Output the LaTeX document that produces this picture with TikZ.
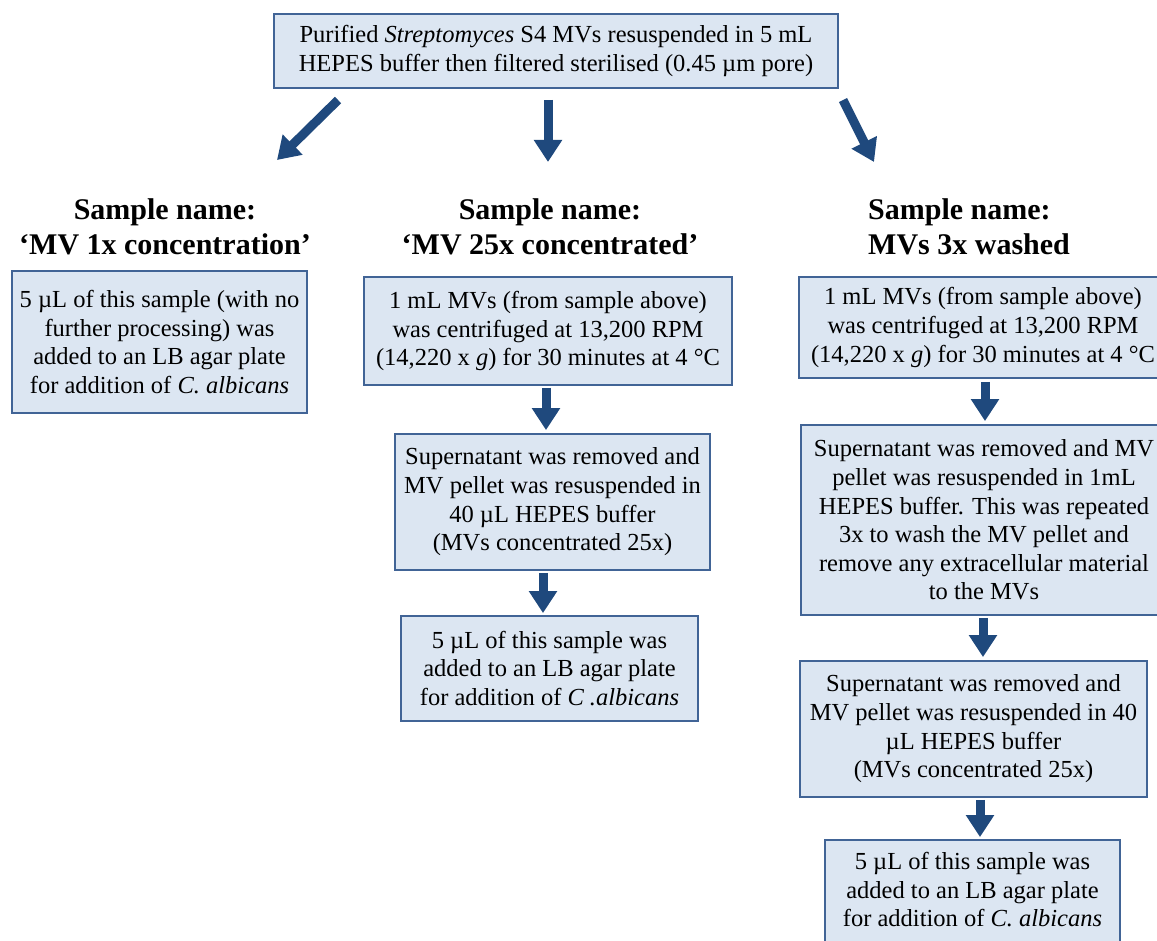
\documentclass[tikz,border=0pt]{standalone}
\usepackage{fontspec}
\setmainfont{Liberation Serif}
\usetikzlibrary{arrows.meta}
\definecolor{boxfill}{RGB}{220,230,242}
\definecolor{boxline}{RGB}{65,100,150}
\definecolor{arrowblue}{RGB}{31,73,125}
\tikzset{
  procbox/.style={draw=boxline, line width=1.8pt, fill=boxfill, align=center,
    font=\fontsize{24.5}{28.6}\selectfont, inner sep=0pt},
  heading/.style={font=\bfseries\fontsize{30}{34.5}\selectfont, align=center, inner sep=0pt},
  flowarrow/.style={draw=arrowblue, line width=9pt, -{Triangle[width=27pt,length=22pt]}},
}
\begin{document}
\begin{tikzpicture}[x=1pt,y=-1pt]
\useasboundingbox (0,0) rectangle (1157,941);
\clip (0,0) rectangle (1157,941);
\fill[white] (0,0) rectangle (1157,941);

% top box
\node[procbox, minimum width=564, minimum height=74] (top) at (556,51)
  {Purified \textit{Streptomyces} S4 MVs resuspended in 5 mL\\HEPES buffer then filtered sterilised (0.45 µm pore)};

% top arrows
\coordinate (a1s) at (338,100); \coordinate (a1e) at (277,160);
\coordinate (a2s) at (548,100); \coordinate (a2e) at (548,162);
\coordinate (a3s) at (843,100); \coordinate (a3e) at (874,162);
\draw[flowarrow] (a1s) -- (a1e);
\draw[flowarrow] (a2s) -- (a2e);
\draw[flowarrow] (a3s) -- (a3e);

% headings
\node[heading] (h1) at (165,227) {Sample name:\\‘MV 1x concentration’};
\node[heading] (h2) at (550,227) {Sample name:\\‘MV 25x concentrated’};
\node[heading, align=left, anchor=west] (h3) at (868,227) {Sample name:\\MVs 3x washed};

% left column
\node[procbox, minimum width=295, minimum height=142] (l1) at (159.5,342)
  {5 µL of this sample (with no\\further processing) was\\added to an LB agar plate\\for addition of \textit{C. albicans}};

% middle column
\node[procbox, minimum width=368, minimum height=108] (m1) at (548,331)
  {1 mL MVs (from sample above)\\was centrifuged at 13,200 RPM\\(14,220 x \textit{g}) for 30 minutes at 4 °C};
\node[procbox, minimum width=315, minimum height=136] (m2) at (552.5,502)
  {Supernatant was removed and\\MV pellet was resuspended in\\40 µL HEPES buffer\\(MVs concentrated 25x)};
\node[procbox, minimum width=297, minimum height=105] (m3) at (549.5,668.5)
  {5 µL of this sample was\\added to an LB agar plate\\for addition of \textit{C .albicans}};

% right column
\node[procbox, minimum width=368, minimum height=101] (r1) at (983,327.5)
  {1 mL MVs (from sample above)\\was centrifuged at 13,200 RPM\\(14,220 x \textit{g}) for 30 minutes at 4 °C};
\node[procbox, minimum width=366, minimum height=190] (r2) at (984,520)
  {Supernatant was removed and MV\\pellet was resuspended in 1mL\\HEPES buffer. This was repeated\\3x to wash the MV pellet and\\remove any extracellular material\\to the MVs};
\node[procbox, minimum width=347, minimum height=136] (r3) at (973.5,729)
  {Supernatant was removed and\\MV pellet was resuspended in 40\\µL HEPES buffer\\(MVs concentrated 25x)};
\node[procbox, minimum width=295, minimum height=116] (r4) at (972.5,898)
  {5 µL of this sample was\\added to an LB agar plate\\for addition of \textit{C. albicans}\\[-12pt]\mbox{}};

% column arrows
\draw[flowarrow, shorten <=2pt, shorten >=3pt] ([xshift=-2]m1.south) -- ([xshift=-2]m1.south |- m2.north);
\draw[flowarrow, shorten <=2pt, shorten >=2pt] ([xshift=-9.5]m2.south) -- ([xshift=-9.5]m2.south |- m3.north);
\draw[flowarrow, shorten <=3pt, shorten >=3pt] ([xshift=2]r1.south) -- ([xshift=2]r1.south |- r2.north);
\draw[flowarrow, shorten <=2pt, shorten >=3pt] ([xshift=-1]r2.south) -- ([xshift=-1]r2.south |- r3.north);
\draw[flowarrow, shorten <=2pt, shorten >=2pt] ([xshift=6.5]r3.south) -- ([xshift=6.5]r3.south |- r4.north);
\end{tikzpicture}
\end{document}
